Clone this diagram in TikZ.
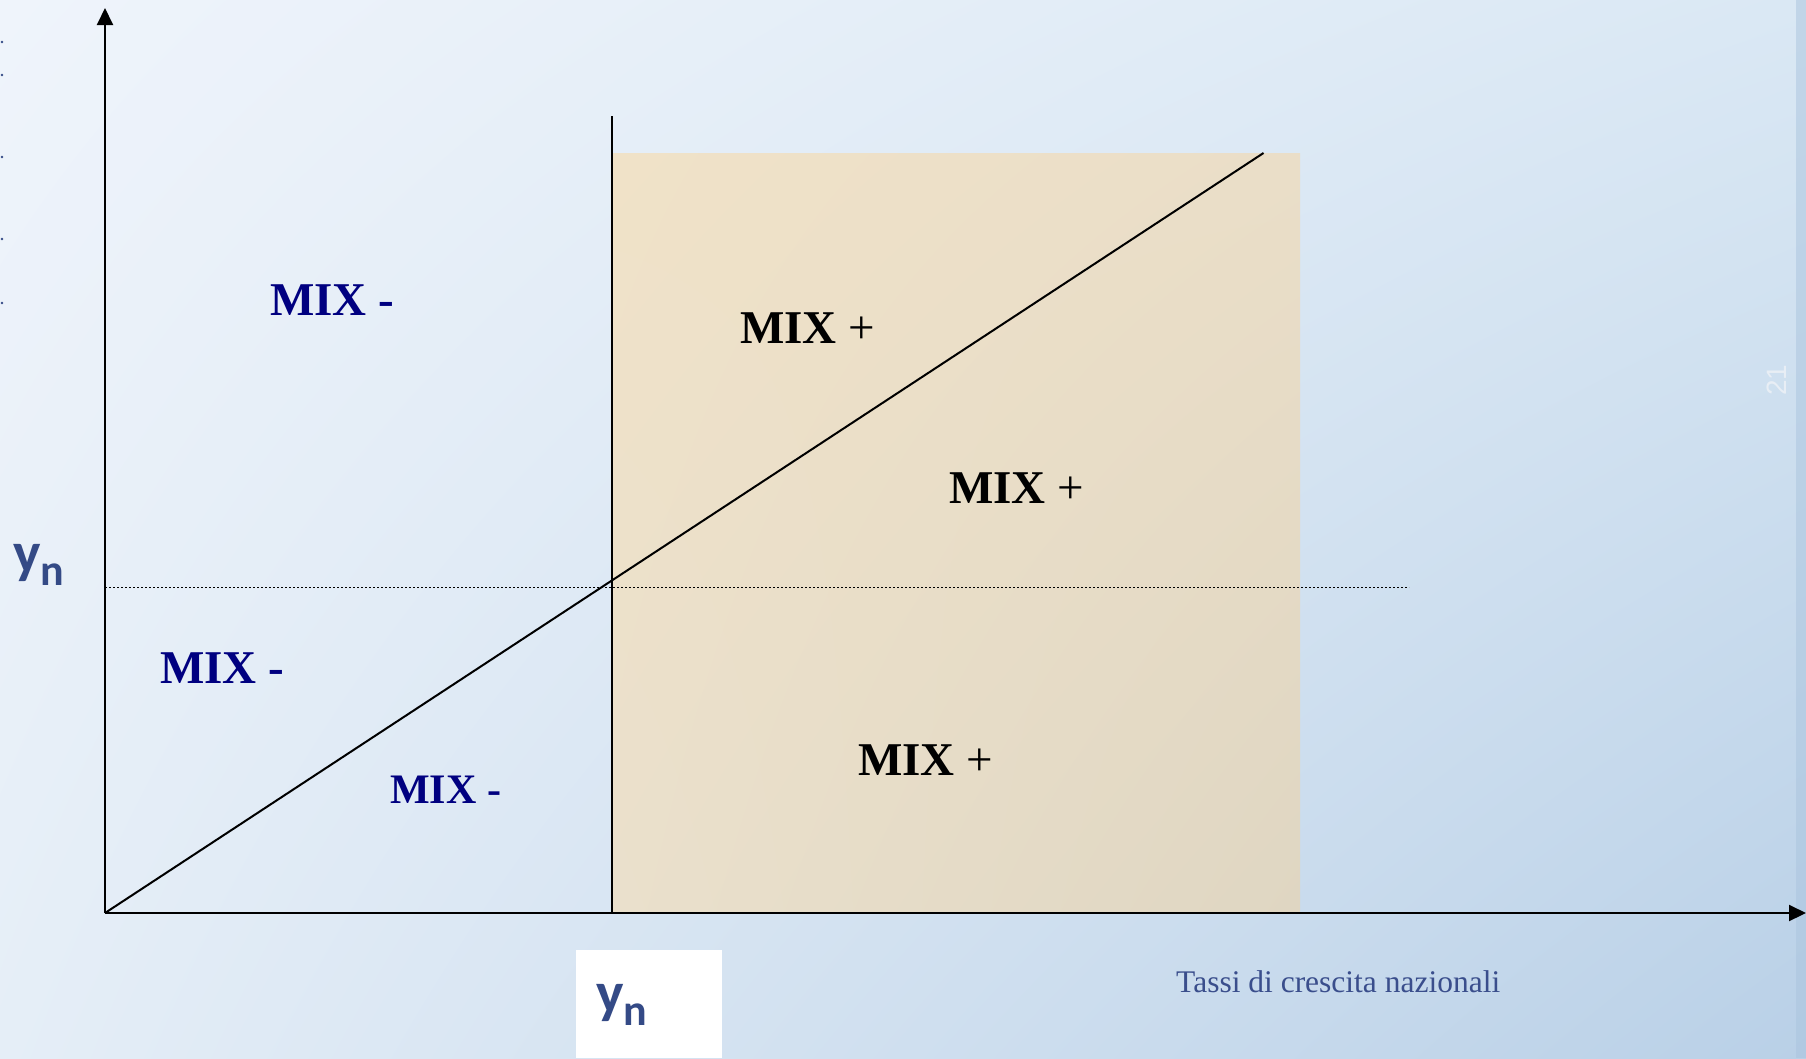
\documentclass[tikz,border=0pt]{standalone}
\usepackage{fontspec}
\setmainfont{Liberation Serif}
\newfontfamily\calib{Carlito}
\newfontfamily\lsans{Liberation Sans}
\usetikzlibrary{arrows.meta,shadings}
\definecolor{bgTL}{RGB}{239,244,251}
\definecolor{bgTR}{RGB}{218,232,244}
\definecolor{bgBL}{RGB}{229,238,247}
\definecolor{bgBR}{RGB}{185,208,231}
\definecolor{boxTL}{RGB}{240,226,200}
\definecolor{boxTR}{RGB}{234,222,200}
\definecolor{boxBL}{RGB}{234,224,204}
\definecolor{boxBR}{RGB}{223,214,194}
\definecolor{navy}{RGB}{0,0,128}
\definecolor{ynblue}{RGB}{52,74,134}
\definecolor{axlabel}{RGB}{58,78,140}
\definecolor{pagenum}{RGB}{232,238,245}
\definecolor{edgeband}{RGB}{170,196,222}
\tikzset{
  axis/.style={line width=2pt,-{Triangle[length=17pt,width=16pt]}},
  plainline/.style={line width=2pt},
  dotline/.style={line width=1.8pt,dash pattern=on 1.8pt off 2.2pt},
  mixneg/.style={inner sep=0pt,anchor=base west,text=navy,font=\fontsize{47}{50}\selectfont\bfseries},
  mixpos/.style={inner sep=0pt,anchor=base west,text=black,font=\fontsize{47}{50}\selectfont},
  ynlab/.style={inner sep=0pt,anchor=base west,text=ynblue,font=\calib\bfseries\fontsize{58}{60}\selectfont}
}
\newcommand{\ynsub}{y{\fontsize{44}{44}\selectfont\raisebox{-13pt}{n}}}
\begin{document}
\begin{tikzpicture}[x=1pt,y=-1pt]
\useasboundingbox (0,0) rectangle (1806,1058);
% background
\shade[upper left=bgTL,upper right=bgTR,lower left=bgBL,lower right=bgBR] (0,0) rectangle (1806,1058);
\fill[edgeband,opacity=0.5] (1796,0) rectangle (1806,1058);
% shaded region
\shade[upper left=boxTL,upper right=boxTR,lower left=boxBL,lower right=boxBR] (612,153) rectangle (1300,913);
% left edge remnants
\foreach \yy in {42,75,157,239,303} \fill[ynblue] (2,\yy) circle (1.4);
% coordinates
\coordinate (O) at (105,913);
\coordinate (Ytop) at (105,8);
\coordinate (Xend) at (1806,913);
\coordinate (Vtop) at (612,116);
\coordinate (Vbot) at (612,913);
\coordinate (Dend) at (1263.5,153);
\coordinate (Hl) at (105,587.5);
\coordinate (Hr) at (1409,587.5);
% lines
\draw[dotline] (Hl) -- (Hr);
\draw[plainline] (Vbot) -- (Vtop);
\draw[plainline] (O) -- (Dend);
\draw[axis] (O) -- (Ytop);
\draw[axis] (O) -- (Xend);
% labels
\node[mixneg] (m1) at (270,315) {MIX -};
\node[mixpos] (p1) at (740,343) {\textbf{MIX} +};
\node[mixpos] (p2) at (949,503) {\textbf{MIX} +};
\node[mixneg] (m2) at (160,683) {MIX -};
\node[mixneg,font=\fontsize{42}{45}\selectfont\bfseries] (m3) at (390,803) {MIX -};
\node[mixpos] (p3) at (858,775) {\textbf{MIX} +};
% y_n labels
\node[ynlab] (yleft) at (13,572) {\ynsub};
\fill[white] (576,950) rectangle (722,1058);
\node[ynlab] (ybot) at (596,1012) {\ynsub};
\node[inner sep=0pt,anchor=base west,text=axlabel,font=\fontsize{31.5}{33}\selectfont] (xlab) at (1176,992) {Tassi di crescita nazionali};
\node[inner sep=0pt,rotate=90,text=pagenum,font=\lsans\fontsize{28}{29}\selectfont] (pg) at (1777,380) {21};
\end{tikzpicture}
\end{document}
